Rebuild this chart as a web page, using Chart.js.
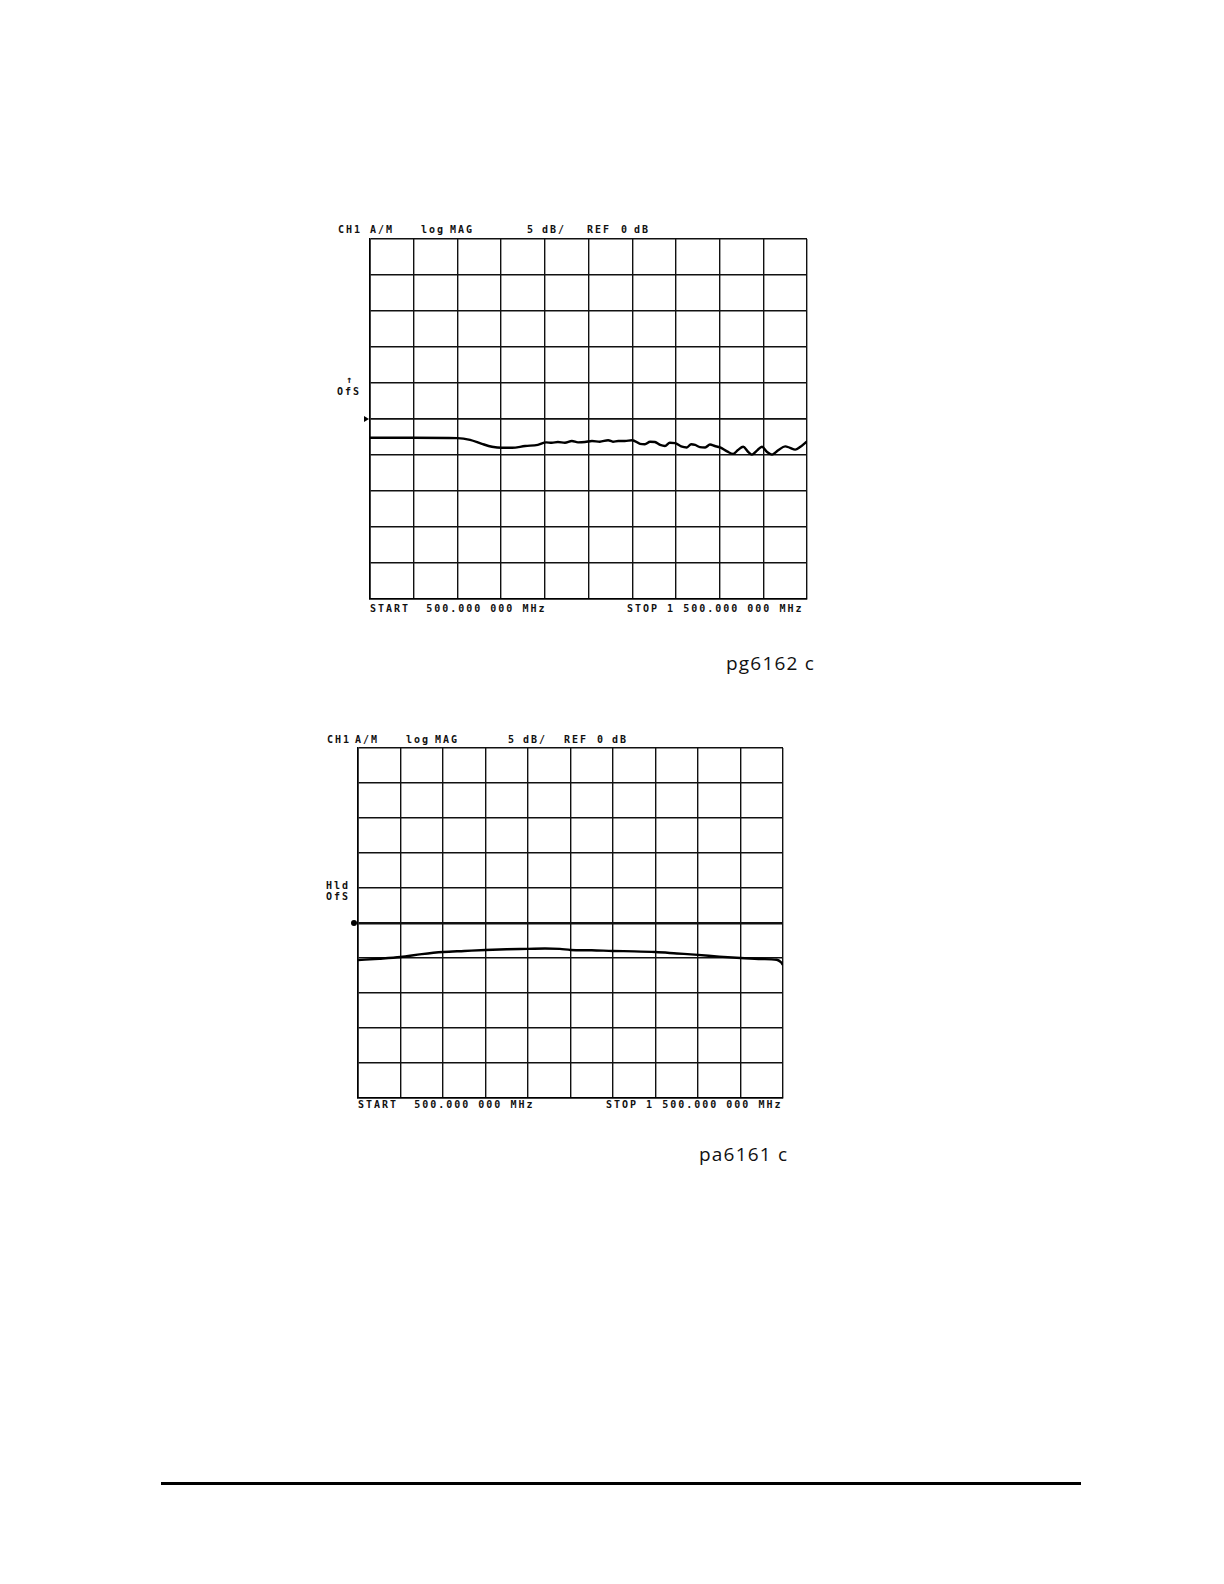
<!DOCTYPE html>
<html>
<head>
<meta charset="utf-8">
<script src="https://cdn.jsdelivr.net/npm/chart.js@4.4.0/dist/chart.umd.min.js"></script>
<style>
  html, body { margin: 0; padding: 0; background: #fff; }
  body { width: 1224px; height: 1584px; position: relative; overflow: hidden; }
  canvas { position: absolute; }
  .t { position: absolute; font-family: "DejaVu Sans Mono", monospace; font-weight: bold; font-size: 10px;
       line-height: 12px; letter-spacing: 2px; color: #111; white-space: pre; }
  .fig { position: absolute; font-family: "Open Sans", "DejaVu Sans", sans-serif; font-size: 19px;
         line-height: 22px; color: #111; white-space: pre; letter-spacing: 1.2px; }
  .rule { position: absolute; left: 161px; top: 1482px; width: 920px; height: 3px; background: #000; }
</style>
</head>
<body>

<!-- Chart 1 texts -->
<div class="t" style="left:338px;top:224px">CH1</div>
<div class="t" style="left:370px;top:224px">A/M</div>
<div class="t" style="left:421px;top:224px">log</div>
<div class="t" style="left:450px;top:224px">MAG</div>
<div class="t" style="left:527px;top:224px">5</div>
<div class="t" style="left:542px;top:224px">dB/</div>
<div class="t" style="left:587px;top:224px">REF</div>
<div class="t" style="left:621px;top:224px">0</div>
<div class="t" style="left:634px;top:224px">dB</div>
<div class="t" style="left:346px;top:374px">↑</div>
<div class="t" style="left:337px;top:386px">OfS</div>
<div class="t" style="left:370px;top:603px">START  500.000 000 MHz</div>
<div class="t" style="left:627px;top:603px">STOP 1 500.000 000 MHz</div>
<div class="fig" style="left:726px;top:652px">pg6162 c</div>

<!-- Chart 2 texts -->
<div class="t" style="left:327px;top:734px">CH1</div>
<div class="t" style="left:355px;top:734px">A/M</div>
<div class="t" style="left:406px;top:734px">log</div>
<div class="t" style="left:435px;top:734px">MAG</div>
<div class="t" style="left:508px;top:734px">5</div>
<div class="t" style="left:523px;top:734px">dB/</div>
<div class="t" style="left:564px;top:734px">REF</div>
<div class="t" style="left:597px;top:734px">0</div>
<div class="t" style="left:612px;top:734px">dB</div>
<div class="t" style="left:326px;top:880px">Hld</div>
<div class="t" style="left:326px;top:891px">OfS</div>
<div class="t" style="left:358px;top:1099px">START  500.000 000 MHz</div>
<div class="t" style="left:606px;top:1099px">STOP 1 500.000 000 MHz</div>
<div class="fig" style="left:699px;top:1143px">pa6161 c</div>

<div class="rule"></div>

<canvas id="c1" width="450" height="366" style="left:360px;top:236px"></canvas>
<canvas id="c2" width="438" height="356" style="left:348px;top:745px"></canvas>

<script>
// ---- Data ----
const xTickValues = [500, 600, 700, 800, 900, 1000, 1100, 1200, 1300, 1400, 1500]; // MHz
const yTickValues = [-25, -20, -15, -10, -5, 0, 5, 10, 15, 20, 25];             // dB (5 dB/div, REF 0 dB)

// Chart 1 (pg6162 c) trace: frequency (MHz) and magnitude (dB)
const freq1 = [500, 600, 700, 729, 756, 779, 802, 825, 855, 884, 903, 916, 930, 946, 962, 976, 992, 1008,
  1026, 1045, 1056, 1068, 1083, 1100, 1118, 1129, 1141, 1152, 1164, 1175, 1186, 1198, 1212, 1225, 1235,
  1244, 1255, 1267, 1278, 1289, 1301, 1317, 1331, 1342, 1354, 1365, 1374, 1386, 1397, 1408, 1420, 1434,
  1450, 1461, 1473, 1484, 1500];
const mag1 = [-2.6, -2.6, -2.65, -2.9, -3.45, -3.85, -4.0, -4.0, -3.75, -3.6, -3.25, -3.3, -3.2, -3.3, -3.05,
  -3.25, -3.2, -3.05, -3.15, -2.95, -3.15, -3.05, -3.05, -2.95, -3.45, -3.5, -3.15, -3.2, -3.6, -3.75, -3.3,
  -3.35, -3.8, -3.95, -3.5, -3.6, -3.9, -3.95, -3.55, -3.75, -3.95, -4.5, -4.85, -4.3, -3.85, -4.55, -4.95,
  -4.35, -3.85, -4.55, -4.95, -4.35, -3.8, -4.0, -4.25, -3.9, -3.1];

// Chart 2 (pa6161 c) trace
const freq2 = [500, 550, 600, 650, 700, 750, 800, 850, 900, 940, 975, 1000, 1050, 1100, 1150, 1200, 1250,
  1300, 1350, 1400, 1450, 1485, 1495, 1500];
const mag2 = [-5.3, -5.1, -4.85, -4.45, -4.15, -4.0, -3.85, -3.75, -3.7, -3.65, -3.7, -3.85, -3.9, -4.0,
  -4.05, -4.15, -4.35, -4.55, -4.8, -5.0, -5.15, -5.25, -5.6, -6.0];

// ---- Chart construction ----
function refMarker(kind) {
  return {
    id: 'refMarker',
    afterDraw(chart) {
      const ctx = chart.ctx;
      const y = chart.scales.y.getPixelForValue(0);
      const x = chart.chartArea.left;
      ctx.save();
      ctx.fillStyle = '#000';
      ctx.beginPath();
      if (kind === 'tri') {
        ctx.moveTo(x - 6, y - 3);
        ctx.lineTo(x - 1, y);
        ctx.lineTo(x - 6, y + 3);
        ctx.closePath();
      } else {
        ctx.arc(x - 4, y, 3, 0, Math.PI * 2);
      }
      ctx.fill();
      ctx.restore();
    }
  };
}

function makeChart(id, freqs, mags, refWidth, marker) {
  const pts = freqs.map((f, i) => ({ x: f, y: mags[i] }));
  return new Chart(document.getElementById(id), {
    type: 'line',
    data: {
      datasets: [{
        data: pts,
        borderColor: '#000',
        borderWidth: 2.4,
        pointRadius: 0,
        cubicInterpolationMode: 'monotone',
        fill: false
      }]
    },
    options: {
      responsive: false,
      animation: false,
      devicePixelRatio: 1,
      layout: { padding: { left: 10, right: 3, top: 3, bottom: 3 } },
      plugins: { legend: { display: false }, tooltip: { enabled: false } },
      scales: {
        x: {
          type: 'linear', min: 500, max: 1500,
          afterBuildTicks: s => { s.ticks = xTickValues.map(v => ({ value: v })); },
          afterFit: s => { s.height = 0; },
          ticks: { display: false },
          grid: { color: '#111', lineWidth: 1.4, drawTicks: false },
          border: { display: true, color: '#000', width: 1.6 }
        },
        y: {
          type: 'linear', min: -25, max: 25,
          afterBuildTicks: s => { s.ticks = yTickValues.map(v => ({ value: v })); },
          afterFit: s => { s.width = 0; },
          ticks: { display: false },
          grid: {
            color: '#111', drawTicks: false,
            lineWidth: c => (c.tick && c.tick.value === 0 ? refWidth : 1.4)
          },
          border: { display: true, color: '#000', width: 1.6 }
        }
      }
    },
    plugins: [refMarker(marker)]
  });
}

makeChart('c1', freq1, mag1, 1.7, 'tri');
makeChart('c2', freq2, mag2, 2.4, 'dot');
</script>
</body>
</html>
